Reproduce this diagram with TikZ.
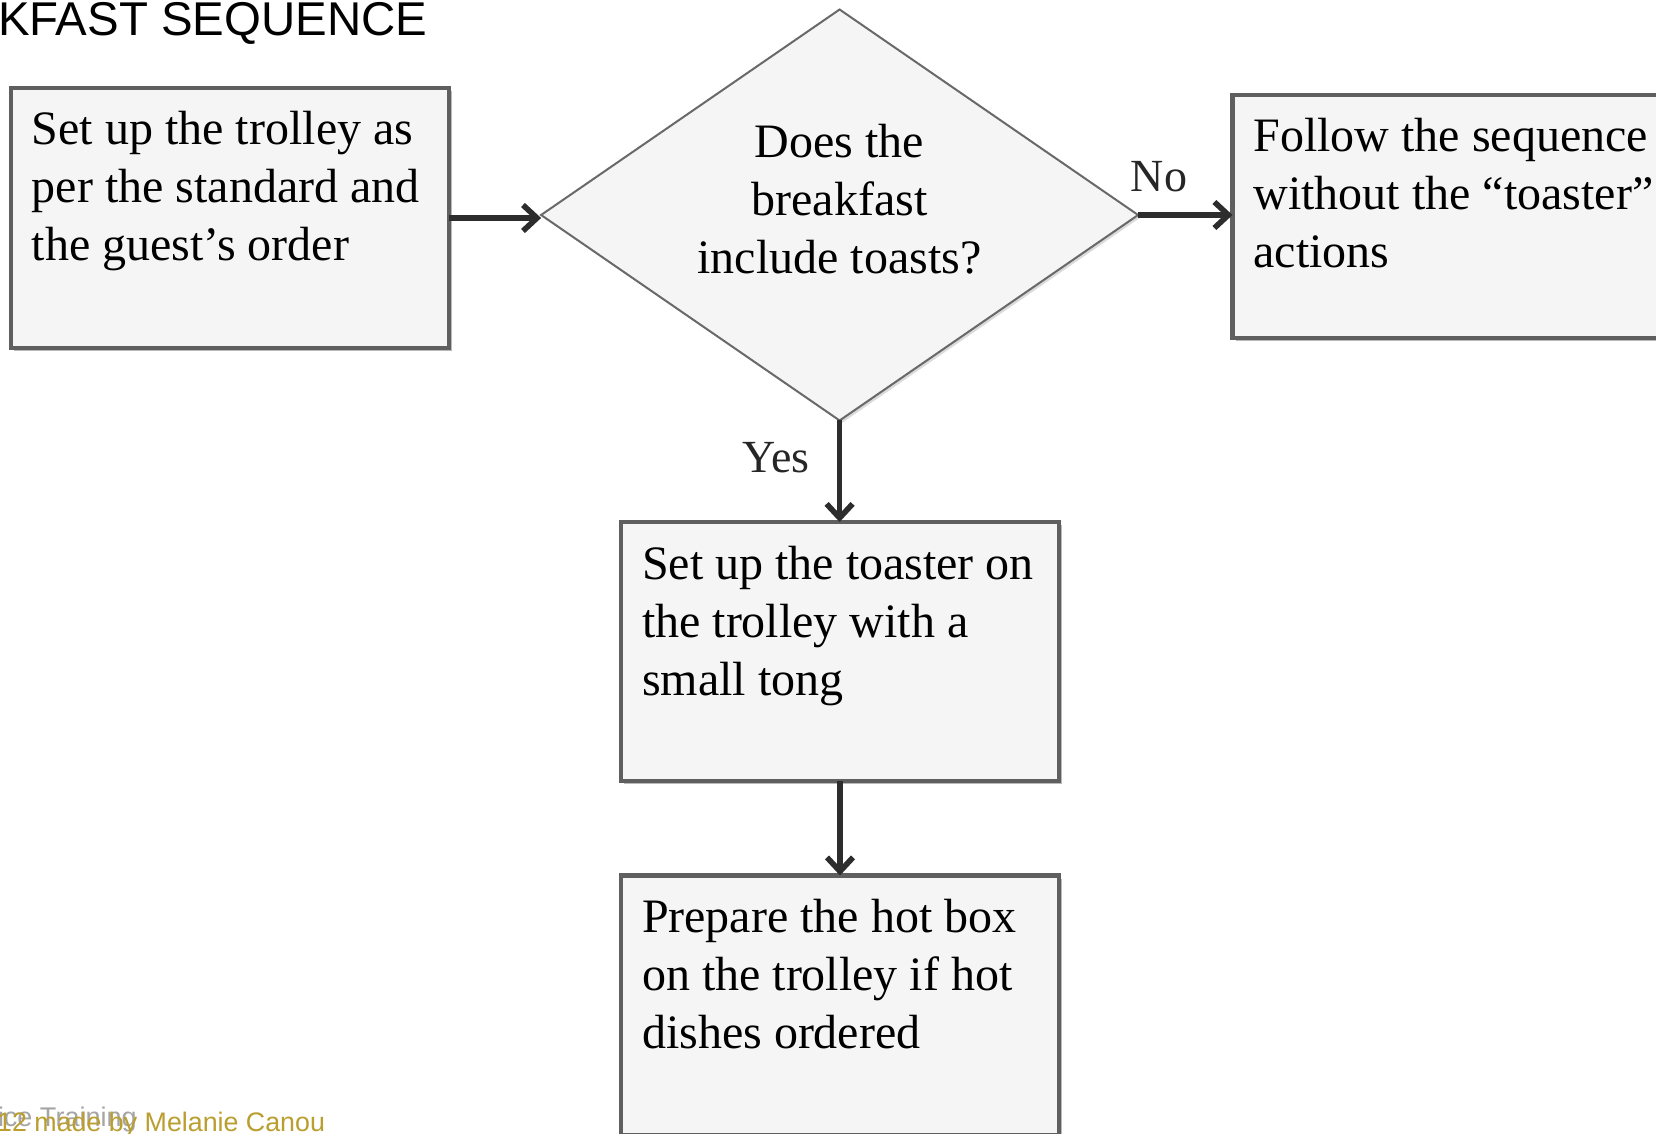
\documentclass[tikz,border=0pt]{standalone}
\usepackage{fontspec}
\setmainfont{Liberation Serif}
\newfontfamily\arialfont{Liberation Sans}
\usetikzlibrary{shapes.geometric,arrows.meta,shadows}
\definecolor{boxfill}{RGB}{245,245,245}
\definecolor{boxline}{RGB}{95,95,95}
\definecolor{diamline}{RGB}{105,105,105}
\definecolor{arrowcol}{RGB}{45,45,45}
\definecolor{footgold}{RGB}{186,158,48}
\definecolor{footgrey}{RGB}{165,165,165}
\newcommand{\boxbody}[2]{\parbox[c][#1][t]{198pt}{\vspace*{8.2pt}\begin{tabular}[t]{@{}l@{}}#2\end{tabular}}}
\begin{document}
\begin{tikzpicture}[x=0.5pt,y=-0.5pt,
  procbox/.style={draw=boxline, line width=2.2pt, fill=boxfill, inner xsep=10.5pt, inner ysep=0pt, outer sep=0pt,
    anchor=north west, font=\fontsize{24}{29}\selectfont,
    drop shadow={shadow xshift=1.5pt, shadow yshift=-1.5pt, fill=black!60, opacity=0.45}},
  decision/.style={diamond, aspect=1.45, draw=diamline, line width=1pt, fill=boxfill, minimum width=298.5pt, minimum height=205.5pt,
    inner sep=0pt, outer sep=0pt, align=center, font=\fontsize{24}{29}\selectfont,
    drop shadow={shadow xshift=1.2pt, shadow yshift=-1.2pt, fill=black!40, opacity=0.35}},
  flow/.style={draw=arrowcol, line width=2.8pt, -{Straight Barb[length=7pt,width=13pt]}},
  branch/.style={font=\fontsize{23}{27}\selectfont, inner sep=0pt, text=black!85},
  plain/.style={inner sep=0pt, outer sep=0pt}
]
\useasboundingbox[fill=white] (0,0) rectangle (1656,1134);

\node[plain, anchor=base west, font=\arialfont\fontsize{23.7}{28}\selectfont] (title) at (-2,36) {KFAST SEQUENCE};

\node[procbox] (b1) at (11,88) {\boxbody{130pt}{Set up the trolley as\\per the standard and\\the guest’s order}};

\node[decision] (d) at (839.6,215) {Does the\\breakfast\\include toasts?\rule[-16pt]{0pt}{0pt}};

\node[procbox] (b2) at (1232.5,95) {\boxbody{121.5pt}{Follow the sequence\\without the “toaster”\\actions}};

\node[procbox] (b3) at (621,522) {\boxbody{129.5pt}{Set up the toaster on\\the trolley with a\\small tong}};

\node[procbox] (b4) at (621,875.5) {\boxbody{130pt}{Prepare the hot box\\on the trolley if hot\\dishes ordered}};

\draw[flow] (b1.east) -- (b1.east -| d.west);
\draw[flow] (d.east) -- (d.east -| b2.west);
\draw[flow] (d.south) -- (d.south |- b3.north);
\draw[flow] (b3.south) -- (b4.north);

\node[branch, anchor=base] (nolab) at (1159,192) {No};
\node[branch, anchor=base west] (yeslab) at (742,473) {Yes};

\node[plain, anchor=base west, text=footgrey, font=\arialfont\fontsize{13.5}{16}\selectfont] (foot1) at (-2,1126) {ice Training};
\node[plain, anchor=base east, text=footgold, font=\arialfont\fontsize{13.4}{16}\selectfont] (foot2) at (325,1131) {12 made by Melanie Canou};
\end{tikzpicture}
\end{document}
